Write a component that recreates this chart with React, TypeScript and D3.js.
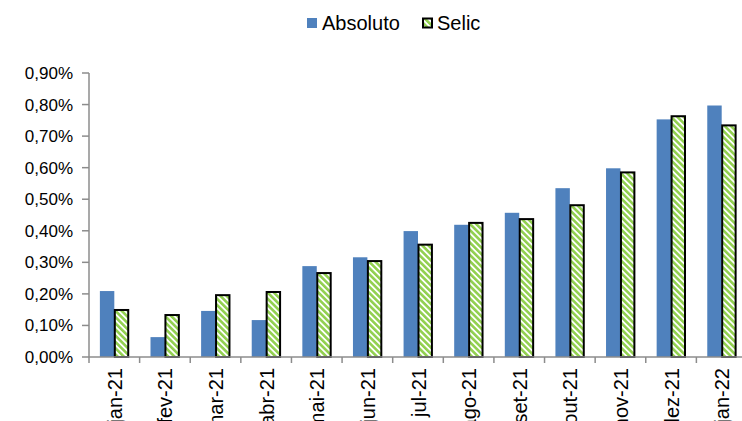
import * as React from 'react';
import * as d3 from 'd3';

const months = ['jan-21', 'fev-21', 'mar-21', 'abr-21', 'mai-21', 'jun-21', 'jul-21', 'ago-21', 'set-21', 'out-21', 'nov-21', 'dez-21', 'jan-22'];
const absoluto = [0.209, 0.063, 0.146, 0.117, 0.288, 0.316, 0.399, 0.419, 0.457, 0.535, 0.598, 0.753, 0.797];
const selic = [0.149, 0.133, 0.196, 0.206, 0.266, 0.304, 0.356, 0.425, 0.437, 0.481, 0.585, 0.763, 0.734];
const yTicks = [0, 0.1, 0.2, 0.3, 0.4, 0.5, 0.6, 0.7, 0.8, 0.9];

const W = 742;
const H = 421;
const font = 'Liberation Sans, Arial, sans-serif';
const axisColor = '#8c8c8c';

const App: React.FC = () => {
	const x0 = d3.scaleBand<string>().domain(months).range([89, 747]);
	const bw = x0.bandwidth();
	const x1 = d3.scaleBand<string>().domain(['a', 's']).range([bw * 0.215, bw * 0.785]);
	const y = d3.scaleLinear().domain([0, 0.9]).range([357, 73]);
	const fmt = (v: number) => v.toFixed(2).replace('.', ',') + '%';

	return (
		<svg width={W} height={H} style={{ position: 'absolute', left: 0, top: 0 }} fontFamily={font}>
			<defs>
				<pattern id='stripes' patternUnits='userSpaceOnUse' width={4.4} height={4.4} patternTransform='rotate(-45)'>
					<rect width={4.4} height={4.4} fill='#ffffff' />
					<rect width={2.6} height={4.4} fill='#92d050' />
				</pattern>
			</defs>

			{/* legend */}
			<rect x={307} y={18} width={10} height={10} fill='#4f81bd' />
			<text x={322} y={30} fontSize={20} fill='#000'>Absoluto</text>
			<rect x={423} y={18.5} width={9} height={9} fill='url(#stripes)' stroke='#000' strokeWidth={2} />
			<text x={437} y={30} fontSize={20} fill='#000'>Selic</text>

			{/* y axis */}
			<line x1={89} x2={89} y1={y(0.9)} y2={y(0)} stroke={axisColor} strokeWidth={1.5} />
			{yTicks.map(t => (
				<g key={t}>
					<line x1={82} x2={89} y1={y(t)} y2={y(t)} stroke={axisColor} strokeWidth={1.5} />
					<text x={73} y={y(t)} dy='0.35em' textAnchor='end' fontSize={17} fill='#000'>
						{fmt(t)}
					</text>
				</g>
			))}

			{/* bars */}
			{months.map((m, i) => (
				<g key={m} transform={`translate(${x0(m)},0)`}>
					<rect x={x1('a')} y={y(absoluto[i])} width={x1.bandwidth()} height={y(0) - y(absoluto[i])} fill='#4f81bd' />
					<rect
						x={x1('s')! + 0.5}
						y={y(selic[i])}
						width={x1.bandwidth() - 1}
						height={y(0) - y(selic[i])}
						fill='url(#stripes)'
						stroke='#000'
						strokeWidth={2}
					/>
				</g>
			))}

			{/* x axis */}
			<line x1={89} x2={W} y1={y(0)} y2={y(0)} stroke={axisColor} strokeWidth={1.5} />
			{months.map(m => (
				<line key={'t' + m} x1={x0(m)} x2={x0(m)} y1={y(0)} y2={y(0) + 6} stroke={axisColor} strokeWidth={1.5} />
			))}
			{months.map(m => {
				const cx = x0(m)! + bw / 2 + 0.5;
				return (
					<text key={'l' + m} transform={`translate(${cx},368) rotate(-90)`} textAnchor='end' dy='0.35em' fontSize={20} fill='#000'>
						{m}
					</text>
				);
			})}
		</svg>
	);
};

export default App;
